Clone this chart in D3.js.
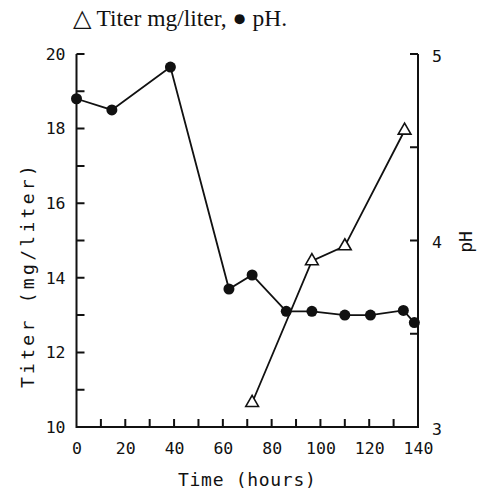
<!DOCTYPE html>
<html>
<head>
<meta charset="utf-8">
<script src="https://cdn.jsdelivr.net/npm/d3@7"></script>
<style>
  body { margin: 0; background: #fff; }
  .tick text { font-family: "DejaVu Sans Mono", monospace; font-size: 16.5px; fill: #111; }
  .axisLabel { font-family: "DejaVu Sans Mono", monospace; font-size: 18px; fill: #111; }
  .title { font-family: "Liberation Serif", "Times New Roman", serif; font-size: 23.5px; fill: #111; }
</style>
</head>
<body>
<div id="graphic"></div>
<script>
// pH readings (filled circles)
var phTime = [0, 14.5, 38.5, 62.5, 72, 86, 96.5, 110, 120.5, 134, 138.5];
var phValue = [4.76, 4.70, 4.93, 3.74, 3.815, 3.62, 3.62, 3.60, 3.60, 3.625, 3.56];

// titer readings (open triangles)
var titerTime = [72, 96.5, 110, 134.5];
var titerValue = [10.65, 14.45, 14.85, 17.95];

var xTicks = [0, 20, 40, 60, 80, 100, 120, 140];
var titerTicks = [10, 12, 14, 16, 18, 20];
var phTicks = [3, 4, 5];

var width = 478, height = 492;
var margin = {top: 54, right: 60, bottom: 65, left: 76.5};
var tickLen = 8;

var svg = d3.select('#graphic').append('svg')
  .attr('width', width)
  .attr('height', height);

var chart_width = width - margin.left - margin.right;
var chart_height = height - margin.top - margin.bottom;

var g = svg.append('g')
  .attr('transform', 'translate(' + margin.left + ',' + margin.top + ')');

var x = d3.scaleLinear().domain([0, 140]).range([0, chart_width]);
var yTiter = d3.scaleLinear().domain([10, 20]).range([chart_height, 0]);
var yPh = d3.scaleLinear().domain([3, 5]).range([chart_height, 0]);

// axes give the labels only; tick marks go into the frame path
var fmt = d3.format('d');
var xAxis = d3.axisBottom(x).tickValues(xTicks).tickFormat(fmt).tickSize(0).tickPadding(15);
var yAxisL = d3.axisLeft(yTiter).tickValues(titerTicks).tickFormat(fmt).tickSize(0).tickPadding(11);
var yAxisR = d3.axisRight(yPh).tickValues(phTicks).tickFormat(fmt).tickSize(0).tickPadding(14);

g.append('g').attr('class', 'x axis')
  .attr('transform', 'translate(0,' + chart_height + ')')
  .call(xAxis)
  .call(s => s.select('.domain').remove());

g.append('g').attr('class', 'y axis')
  .call(yAxisL)
  .call(s => s.select('.domain').remove());

g.append('g').attr('class', 'y axis')
  .attr('transform', 'translate(' + chart_width + ',0)')
  .call(yAxisR)
  .call(s => s.select('.domain').remove())
  .selectAll('text').attr('dy', '0.45em');

// open-topped frame plus inward ticks (10 h / 1 mg / 0.5 pH)
var p = d3.path();
p.moveTo(0, 0);
p.lineTo(0, chart_height);
p.lineTo(chart_width, chart_height);
p.lineTo(chart_width, 0);
d3.range(0, 141, 10).forEach(function(d) {
  p.moveTo(x(d), chart_height);
  p.lineTo(x(d), chart_height - tickLen);
});
d3.range(10, 21, 1).forEach(function(d) {
  p.moveTo(0, yTiter(d));
  p.lineTo(tickLen, yTiter(d));
});
d3.range(3, 5.01, 0.5).forEach(function(d) {
  p.moveTo(chart_width, yPh(d));
  p.lineTo(chart_width - tickLen, yPh(d));
});

g.append('path')
  .attr('class', 'frame')
  .attr('d', p.toString())
  .attr('fill', 'none')
  .attr('stroke', '#111')
  .attr('stroke-width', 2);

var phData = d3.zip(phTime, phValue);
var titerData = d3.zip(titerTime, titerValue);

g.append('path')
  .datum(phData)
  .attr('fill', 'none')
  .attr('stroke', '#111')
  .attr('stroke-width', 1.8)
  .attr('d', d3.line().x(d => x(d[0])).y(d => yPh(d[1])));

g.append('path')
  .datum(titerData)
  .attr('fill', 'none')
  .attr('stroke', '#111')
  .attr('stroke-width', 1.8)
  .attr('d', d3.line().x(d => x(d[0])).y(d => yTiter(d[1])));

g.selectAll('circle.ph')
  .data(phData)
  .join('circle')
  .attr('class', 'ph')
  .attr('cx', d => x(d[0]))
  .attr('cy', d => yPh(d[1]))
  .attr('r', 5.5)
  .attr('fill', '#111');

g.selectAll('path.titer')
  .data(titerData)
  .join('path')
  .attr('class', 'titer')
  .attr('transform', d => 'translate(' + x(d[0]) + ',' + yTiter(d[1]) + ')')
  .attr('d', d3.symbol().type(d3.symbolTriangle).size(70))
  .attr('fill', '#fff')
  .attr('stroke', '#111')
  .attr('stroke-width', 1.6);

// labels
svg.append('text')
  .attr('class', 'axisLabel')
  .attr('x', margin.left + chart_width / 2)
  .attr('y', 486)
  .attr('text-anchor', 'middle')
  .style('letter-spacing', '0.7px')
  .text('Time (hours)');

svg.append('text')
  .attr('class', 'axisLabel')
  .attr('transform', 'translate(34,275) rotate(-90)')
  .attr('text-anchor', 'middle')
  .style('letter-spacing', '3.3px')
  .text('Titer  (mg/liter)');

svg.append('text')
  .attr('class', 'axisLabel')
  .attr('transform', 'translate(472,242) rotate(-90)')
  .attr('text-anchor', 'middle')
  .text('pH');

svg.append('text')
  .attr('class', 'title')
  .attr('x', 73)
  .attr('y', 26)
  .text('\u25B3 Titer mg/liter, \u25CF pH.');
</script>
</body>
</html>
